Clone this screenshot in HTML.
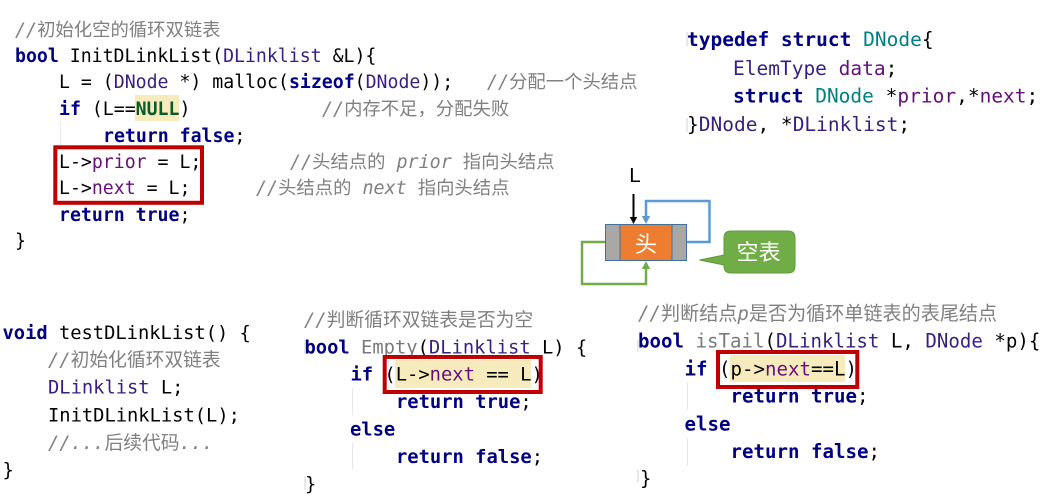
<!DOCTYPE html>
<html lang="zh">
<head>
<meta charset="utf-8">
<title>循环双链表</title>
<style>
html,body{margin:0;padding:0;background:#fff;width:1059px;height:498px;overflow:hidden}
svg{display:block}
text{font-family:"DejaVu Sans Mono","Noto Sans CJK SC",monospace;white-space:pre;fill:#000}
.code{filter:blur(.35px)}
.a{font-size:18.2px}
.a .m{font-size:18.35px}
.b{font-size:19.5px}
.c{font-size:18.75px}
.d{font-size:18.8px}
.e{font-size:19.1px}
.k{font-weight:bold;fill:#000080}
.t{fill:#371f80}
.f{fill:#660e7a}
.m{fill:#808080}
.i{font-style:italic}
.u{fill:#7a7a7a}
.n{font-weight:bold;fill:#0b5a2a}
.s{fill:#008080}
.ui{font-family:"Liberation Sans","Noto Sans CJK SC",sans-serif}
</style>
</head>
<body>
<svg width="1059" height="498" viewBox="0 0 1059 498" xmlns="http://www.w3.org/2000/svg">

<!-- highlights and guides -->
<rect x="135" y="95" width="44" height="26" fill="#f6ebbc"/>
<rect x="395" y="360" width="136" height="28" fill="#f6ebbc"/>
<rect x="730" y="355" width="115" height="27" fill="#f6ebbc"/>
<g fill="#e8e8e8">
<rect x="60" y="121" width="1" height="24"/>
<rect x="352" y="388" width="1" height="27"/>
<rect x="352" y="442" width="1" height="28"/>
<rect x="687" y="382" width="1" height="28"/>
<rect x="687" y="438" width="1" height="28"/>
<rect x="304" y="340" width="2" height="14"/>
<rect x="304" y="476" width="2" height="14"/>
<rect x="637" y="340" width="2" height="12"/>
<rect x="637" y="470" width="2" height="12"/>
<rect x="686" y="32" width="2" height="14"/>
<rect x="686" y="118" width="2" height="14"/>
</g>

<g class="code">
<!-- top-left block -->
<g class="a">
<text x="15" y="36" class="m"><tspan class="i">//</tspan>初始化空的循环双链表</text>
<text x="15" y="62"><tspan class="k">bool</tspan> InitDLinkList(<tspan class="t">DLinklist</tspan> &amp;L){</text>
<text x="59" y="88">L = (<tspan class="t">DNode</tspan> *) malloc(<tspan class="k">sizeof</tspan>(<tspan class="t">DNode</tspan>));</text>
<text x="487" y="88" class="m"><tspan class="i">//</tspan>分配一个头结点</text>
<text x="59" y="115"><tspan class="k">if</tspan> (L==<tspan class="n">NULL</tspan>)</text>
<text x="322" y="115" class="m"><tspan class="i">//</tspan>内存不足，分配失败</text>
<text x="103" y="142"><tspan class="k">return false</tspan>;</text>
<text x="59" y="168">L-&gt;<tspan class="f">prior</tspan> = L;</text>
<text x="290" y="168" class="m"><tspan class="i">//</tspan>头结点的 <tspan class="i">prior</tspan> 指向头结点</text>
<text x="59" y="194">L-&gt;<tspan class="f">next</tspan> = L;</text>
<text x="256" y="194" class="m"><tspan class="i">//</tspan>头结点的 <tspan class="i">next</tspan> 指向头结点</text>
<text x="59" y="221"><tspan class="k">return true</tspan>;</text>
<text x="15" y="247">}</text>
</g>

<!-- top-right block -->
<g class="b">
<text x="687" y="46"><tspan class="k">typedef struct</tspan> <tspan class="s">DNode</tspan>{</text>
<text x="733" y="75"><tspan class="t">ElemType</tspan> <tspan class="f">data</tspan>;</text>
<text x="733" y="102.5"><tspan class="k">struct</tspan> <tspan class="s">DNode</tspan> *<tspan class="f">prior</tspan>,*<tspan class="f">next</tspan>;</text>
<text x="687" y="131">}<tspan class="t">DNode</tspan>, *<tspan class="t">DLinklist</tspan>;</text>
</g>

<!-- bottom-left block -->
<g class="c">
<text x="2.5" y="339"><tspan class="k">void</tspan> testDLinkList() {</text>
<text x="48" y="366" class="m"><tspan class="i">//</tspan>初始化循环双链表</text>
<text x="48" y="393.5"><tspan class="t">DLinklist</tspan> L;</text>
<text x="48" y="421.5">InitDLinkList(L);</text>
<text x="48" y="449" class="m"><tspan class="i">//...</tspan>后续代码<tspan class="i">...</tspan></text>
<text x="2.5" y="476">}</text>
</g>

<!-- bottom-middle block -->
<g class="d">
<text x="304" y="326" class="m"><tspan class="i">//</tspan>判断循环双链表是否为空</text>
<text x="304.5" y="353.5"><tspan class="k">bool</tspan> <tspan class="u">Empty</tspan>(<tspan class="t">DLinklist</tspan> L) {</text>
<text x="350.5" y="380.5"><tspan class="k">if</tspan> (L-&gt;<tspan class="f">next</tspan> == L)</text>
<text x="396" y="408"><tspan class="k">return true</tspan>;</text>
<text x="350" y="435.5"><tspan class="k">else</tspan></text>
<text x="396" y="463"><tspan class="k">return false</tspan>;</text>
<text x="305" y="490">}</text>
</g>

<!-- bottom-right block -->
<g class="e">
<text x="638" y="320" class="m"><tspan class="i">//</tspan>判断结点<tspan class="i">p</tspan>是否为循环单链表的表尾结点</text>
<text x="638" y="347.5"><tspan class="k">bool</tspan> <tspan class="u">isTail</tspan>(<tspan class="t">DLinklist</tspan> L, <tspan class="t">DNode</tspan> *p){</text>
<text x="684.5" y="375.5"><tspan class="k">if</tspan> (p-&gt;<tspan class="f">next</tspan>==L)</text>
<text x="730.5" y="402.5"><tspan class="k">return true</tspan>;</text>
<text x="684.5" y="430.5"><tspan class="k">else</tspan></text>
<text x="730.5" y="458"><tspan class="k">return false</tspan>;</text>
<text x="640" y="485">}</text>
</g>
</g>

<!-- red boxes -->
<g fill="none" stroke="#c00000" stroke-width="4">
<rect x="55.3" y="147.3" width="146.7" height="55.5"/>
<rect x="384.7" y="357" width="156" height="35"/>
<rect x="718" y="352" width="139.3" height="35"/>
</g>

<!-- node diagram -->
<text x="635" y="182" text-anchor="middle" class="ui" font-size="20.5">L</text>
<rect x="605.5" y="224.5" width="81" height="36" fill="#aaa7a7" stroke="#41719c" stroke-width="1"/>
<rect x="620" y="224.5" width="52" height="36" fill="#ed7d31" stroke="#41719c" stroke-width="1"/>
<text x="646" y="252" text-anchor="middle" class="ui" font-size="22" style="fill:#fff">头</text>
<path d="M633.5 194V218" fill="none" stroke="#000" stroke-width="2"/>
<path d="M629.8 217H637.2L633.5 224Z" fill="#000"/>
<path d="M687 242H709.5V201H646V217" fill="none" stroke="#5b9bd5" stroke-width="2.5"/>
<path d="M641.8 216H650.2L646 224Z" fill="#5b9bd5"/>
<path d="M605 242H582V284H646V268" fill="none" stroke="#70ad47" stroke-width="2.5"/>
<path d="M641.8 269H650.2L646 261Z" fill="#70ad47"/>
<path d="M699.5 260L724 255V238Q724 231 731 231H788Q795 231 795 238V266Q795 273 788 273H731Q724 273 724 266V265Z" fill="#70ad47" stroke="#5f9a3c" stroke-width="1"/>
<text x="758.5" y="260" text-anchor="middle" class="ui" font-size="22" style="fill:#fff">空表</text>
</svg>
</body>
</html>
